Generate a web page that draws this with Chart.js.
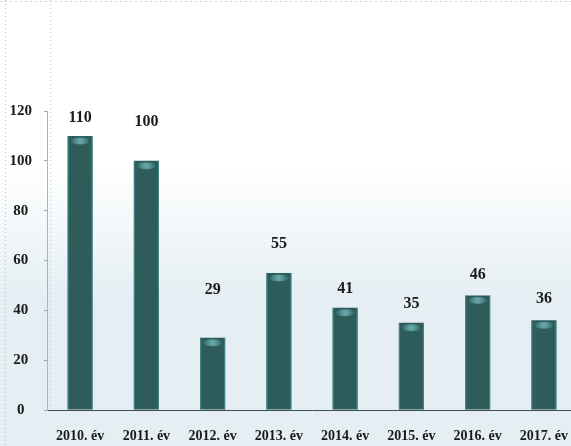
<!DOCTYPE html>
<html>
<head>
<meta charset="utf-8">
<script src="https://cdn.jsdelivr.net/npm/chart.js@4/dist/chart.umd.min.js"></script>
<style>
  html, body { margin: 0; padding: 0; background: #ffffff; overflow: hidden; }
  #wrap { width: 571px; height: 446px; position: relative; overflow: hidden; }
  canvas { display: block; }
</style>
</head>
<body>
<div id="wrap"><canvas id="c" width="578" height="446"></canvas></div>
<script>
// ---- data ----
const categories = ['2010. év', '2011. év', '2012. év', '2013. év', '2014. év', '2015. év', '2016. év', '2017. év'];
const values = [110, 100, 29, 55, 41, 35, 46, 36];
const yTicks = [0, 20, 40, 60, 80, 100, 120];

// ---- styling ----
const labelGaps = [18, 39, 48, 29, 19, 19, 21, 21]; // px between bar top and label centre
const serif = '"Liberation Serif", "DejaVu Serif", serif';

const backgroundPlugin = {
  id: 'bg',
  beforeDraw(chart) {
    const ctx = chart.ctx;
    const w = chart.width, h = chart.height;
    ctx.save();
    ctx.fillStyle = '#ffffff';
    ctx.fillRect(0, 0, w, h);
    const g = ctx.createLinearGradient(0, 170, 0, 300);
    g.addColorStop(0, 'rgba(228,238,243,0)');
    g.addColorStop(1, 'rgba(228,238,243,1)');
    ctx.fillStyle = g;
    ctx.fillRect(0, 170, w, h - 170);
    // left faint dotted border
    ctx.strokeStyle = '#a9c4cf';
    ctx.lineWidth = 1;
    ctx.setLineDash([1, 3]);
    ctx.beginPath();
    ctx.moveTo(5.5, 0);
    ctx.lineTo(5.5, h);
    ctx.stroke();
    // faint top edge
    ctx.strokeStyle = '#c9d3d8';
    ctx.setLineDash([2, 3]);
    ctx.beginPath();
    ctx.moveTo(0, 1.5);
    ctx.lineTo(w, 1.5);
    ctx.stroke();
    // faint vertical dotted line by the axis
    const a = chart.chartArea;
    ctx.strokeStyle = '#b8cdd6';
    ctx.setLineDash([1, 3]);
    ctx.beginPath();
    ctx.moveTo(a.left + 3.5, 0);
    ctx.lineTo(a.left + 3.5, a.bottom);
    ctx.stroke();
    ctx.restore();
  }
};

const barDecorPlugin = {
  id: 'barDecor',
  afterDatasetsDraw(chart) {
    const ctx = chart.ctx;
    const meta = chart.getDatasetMeta(0);
    ctx.save();
    meta.data.forEach((bar, i) => {
      const half = bar.width / 2;
      const left = bar.x - half;
      // cyan edges
      ctx.fillStyle = 'rgba(80,170,180,0.5)';
      ctx.fillRect(left, bar.y, 1.2, bar.base - bar.y);
      ctx.fillRect(left + bar.width - 1.2, bar.y, 1.2, bar.base - bar.y);
      // top highlight (soft band)
      const hg = ctx.createRadialGradient(bar.x, bar.y + 5, 1, bar.x, bar.y + 5, half - 2);
      hg.addColorStop(0, 'rgba(120,195,200,0.75)');
      hg.addColorStop(1, 'rgba(120,195,200,0)');
      ctx.fillStyle = hg;
      ctx.beginPath();
      ctx.ellipse(bar.x, bar.y + 5, half - 3, 3.5, 0, 0, Math.PI * 2);
      ctx.fill();
      // value label
      ctx.fillStyle = '#1a1a1a';
      ctx.font = 'bold 16px ' + serif;
      ctx.textAlign = 'center';
      ctx.textBaseline = 'middle';
      ctx.fillText(String(values[i]), bar.x, bar.y - labelGaps[i]);
    });
    ctx.restore();
  }
};

const ctx = document.getElementById('c').getContext('2d');

new Chart(ctx, {
  type: 'bar',
  data: {
    labels: categories,
    datasets: [{
      data: values,
      backgroundColor: (c) => {
        const el = c.element;
        const chart = c.chart;
        if (!el || !el.width) return '#2e5c5a';
        const l = el.x - el.width / 2, r = el.x + el.width / 2;
        const g = chart.ctx.createLinearGradient(l, 0, r, 0);
        g.addColorStop(0, '#3a7a7b');
        g.addColorStop(0.25, '#2b5755');
        g.addColorStop(0.7, '#2d5a58');
        g.addColorStop(1, '#37706f');
        return g;
      },
      borderWidth: 0,
      barPercentage: 0.38,
      categoryPercentage: 1.0
    }]
  },
  options: {
    responsive: false,
    animation: false,
    events: [],
    layout: { padding: { top: 111, right: 0, bottom: 0, left: 0 } },
    plugins: { legend: { display: false }, tooltip: { enabled: false }, title: { display: false } },
    scales: {
      x: {
        offset: true,
        grid: { display: false },
        border: { display: true, color: '#3d4d55', width: 1, dash: [3, 2] },
        ticks: {
          color: '#1a1a1a',
          font: { family: serif, size: 14, weight: 'bold' },
          padding: 10,
          maxRotation: 0,
          autoSkip: false
        },
        afterFit(scale) { scale.height = 36; }
      },
      y: {
        min: 0,
        max: 120,
        afterBuildTicks(scale) { scale.ticks = yTicks.map(v => ({ value: v })); },
        grid: { display: true, drawOnChartArea: false, drawTicks: true, tickLength: 3, color: '#8fa9b5' },
        border: { display: true, color: '#9fb7c2', dash: [1, 2] },
        ticks: {
          color: '#1a1a1a',
          font: { family: serif, size: 15, weight: 'bold' },
          crossAlign: 'center',
          padding: 12
        },
        afterFit(scale) { scale.width = 47; }
      }
    }
  },
  plugins: [backgroundPlugin, barDecorPlugin]
});
</script>
</body>
</html>
